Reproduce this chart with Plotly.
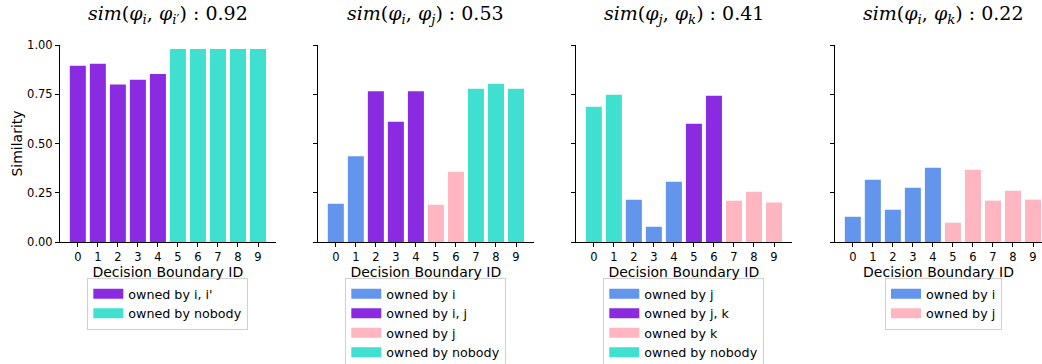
import plotly.graph_objects as go

# ---------------- data ----------------
ids = list(range(10))
tick_labels = [str(i) for i in ids]
y_ticks = [0.0, 0.25, 0.5, 0.75, 1.0]
y_tick_labels = ["0.00", "0.25", "0.50", "0.75", "1.00"]

titles = [
    "<i>sim</i>(<i>φ</i><sub><i>i</i></sub>, <i>φ</i><sub><i>i</i>′</sub>) : 0.92",
    "<i>sim</i>(<i>φ</i><sub><i>i</i></sub>, <i>φ</i><sub><i>j</i></sub>) : 0.53",
    "<i>sim</i>(<i>φ</i><sub><i>j</i></sub>, <i>φ</i><sub><i>k</i></sub>) : 0.41",
    "<i>sim</i>(<i>φ</i><sub><i>i</i></sub>, <i>φ</i><sub><i>k</i></sub>) : 0.22",
]

sim_ii = [0.895, 0.905, 0.800, 0.823, 0.853, 0.980, 0.980, 0.980, 0.980, 0.980]
own_ii = ["owned by i, i'"] * 5 + ["owned by nobody"] * 5
cats_ii = ["owned by i, i'", "owned by nobody"]

sim_ij = [0.194, 0.435, 0.765, 0.611, 0.765, 0.189, 0.357, 0.778, 0.803, 0.778]
own_ij = (["owned by i"] * 2 + ["owned by i, j"] * 3 + ["owned by j"] * 2
          + ["owned by nobody"] * 3)
cats_ij = ["owned by i", "owned by i, j", "owned by j", "owned by nobody"]

sim_jk = [0.687, 0.748, 0.215, 0.078, 0.306, 0.600, 0.743, 0.210, 0.255, 0.200]
own_jk = (["owned by nobody"] * 2 + ["owned by j"] * 3 + ["owned by j, k"] * 2
          + ["owned by k"] * 3)
cats_jk = ["owned by j", "owned by j, k", "owned by k", "owned by nobody"]

sim_ik = [0.128, 0.316, 0.164, 0.276, 0.377, 0.098, 0.367, 0.210, 0.260, 0.215]
own_ik = ["owned by i"] * 5 + ["owned by j"] * 5
cats_ik = ["owned by i", "owned by j"]

BLUE, PURPLE, PINK, TURQ = "#6495ED", "#8A2BE2", "#FFB6C1", "#40E0D0"
colors_ii = [PURPLE, TURQ]
colors_ij = [BLUE, PURPLE, PINK, TURQ]
colors_jk = [BLUE, PURPLE, PINK, TURQ]
colors_ik = [BLUE, PINK]

panels = [
    (sim_ii, own_ii, cats_ii, colors_ii),
    (sim_ij, own_ij, cats_ij, colors_ij),
    (sim_jk, own_jk, cats_jk, colors_jk),
    (sim_ik, own_ik, cats_ik, colors_ik),
]

# ---------------- layout geometry ----------------
W, H = 1042, 364
ML, MR, MT, MB = 60, 0, 45, 122
PW = W - ML - MR
PH = H - MT - MB
px_left = [60, 318, 576, 835]
px_right = [275.6, 533.6, 791.6, 1042]
PX_PER_UNIT = 20.02
X0 = -0.89

SANS = "DejaVu Sans, Arial, sans-serif"
SERIF = "DejaVu Serif, Liberation Serif, serif"

fig = go.Figure()
layout = dict(
    width=W, height=H,
    margin=dict(l=ML, r=MR, t=MT, b=MB, pad=0, autoexpand=False),
    paper_bgcolor="white", plot_bgcolor="white",
    barmode="overlay",
    font=dict(family=SANS, color="black", size=11.5),
    annotations=[],
)

for k, (vals, owners, cats, cols) in enumerate(panels):
    n = k + 1
    xa = "x" if n == 1 else f"x{n}"
    ya = "y" if n == 1 else f"y{n}"
    leg = "legend" if n == 1 else f"legend{n}"
    for cat, col in zip(cats, cols):
        xs = [i for i, o in zip(ids, owners) if o == cat]
        ys = [v for v, o in zip(vals, owners) if o == cat]
        fig.add_trace(go.Bar(x=xs, y=ys, width=0.8, marker=dict(color=col, line=dict(width=0)),
                             name=cat, showlegend=False, xaxis=xa, yaxis=ya,
                             hovertemplate="%{x}: %{y:.2f}<extra>" + cat + "</extra>"))
        fig.add_trace(go.Scatter(x=[None], y=[None], mode="lines",
                                 line=dict(color=col, width=10), name=cat,
                                 showlegend=True, legend=leg, xaxis=xa, yaxis=ya))

    d0 = (px_left[k] - ML) / PW
    d1 = (px_right[k] - ML) / PW
    x1 = X0 + (px_right[k] - px_left[k]) / PX_PER_UNIT
    xkey = "xaxis" if n == 1 else f"xaxis{n}"
    ykey = "yaxis" if n == 1 else f"yaxis{n}"
    layout[xkey] = dict(
        domain=[d0, d1], range=[X0, x1], anchor=ya, automargin=False,
        tickmode="array", tickvals=ids, ticktext=tick_labels,
        ticks="outside", ticklen=4, tickwidth=1, tickcolor="black",
        showline=True, linecolor="black", linewidth=1,
        showgrid=False, zeroline=False,
        tickfont=dict(size=11.5, family=SANS, color="black"),
        title=dict(text="Decision Boundary ID", standoff=3,
                   font=dict(size=14, family=SANS, color="black")),
        fixedrange=True,
    )
    ydict = dict(
        domain=[0, 1], range=[0, 1], anchor=xa, automargin=False,
        tickmode="array", tickvals=y_ticks,
        showticklabels=(n == 1),
        ticks="outside", ticklen=4, tickwidth=1, tickcolor="black",
        showline=True, linecolor="black", linewidth=1,
        showgrid=False, zeroline=False,
        tickfont=dict(size=11.5, family=SANS, color="black"),
        fixedrange=True,
    )
    if n == 1:
        ydict["ticktext"] = y_tick_labels
        ydict["title"] = dict(text="Similarity", standoff=1,
                              font=dict(size=14, family=SANS, color="black"))
    layout[ykey] = ydict

    # legend
    if k == 3:
        cx = (943.5 - ML) / PW
    else:
        cx = (d0 + d1) / 2
    layout[leg] = dict(
        x=cx, xanchor="center", y=(MT + PH - 278) / PH, yanchor="top",
        bgcolor="white", bordercolor="#d0d0d0", borderwidth=1,
        font=dict(size=12.7, family=SANS, color="black"),
        itemwidth=30, traceorder="normal", tracegroupgap=0,
        itemclick=False, itemdoubleclick=False,
    )

    # title
    layout["annotations"].append(dict(
        text=titles[k], xref="paper", yref="paper",
        x=cx if k == 3 else (d0 + d1) / 2, y=(MT + PH - 14) / PH,
        xanchor="center", yanchor="middle", showarrow=False,
        font=dict(size=19, family=SERIF, color="black"),
    ))

fig.update_layout(**layout)
fig.write_html(
    "out.html",
    config={"displayModeBar": False},
    post_script="document.body.style.margin='0';document.body.style.overflow='hidden';",
)
